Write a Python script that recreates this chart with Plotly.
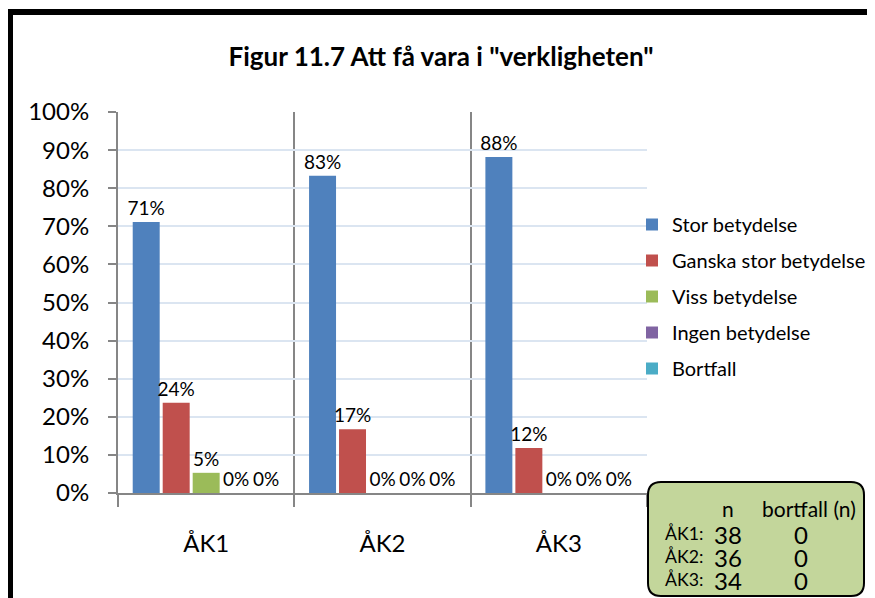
import plotly.graph_objects as go

categories = ["ÅK1", "ÅK2", "ÅK3"]
series_names = ["Stor betydelse", "Ganska stor betydelse", "Viss betydelse", "Ingen betydelse", "Bortfall"]
stor = [0.711, 0.833, 0.882]
ganska = [0.237, 0.167, 0.118]
viss = [0.053, 0.0, 0.0]
ingen = [0.0, 0.0, 0.0]
bortfall = [0.0, 0.0, 0.0]
colors = ["#4f81bd", "#c0504d", "#9bbb59", "#8064a2", "#4bacc6"]
y_ticks = [0, 0.1, 0.2, 0.3, 0.4, 0.5, 0.6, 0.7, 0.8, 0.9, 1.0]
n_values = [38, 36, 34]
bortfall_n = [0, 0, 0]

OFF = 8  # page offset of the figure (body margin)
W, H = 875 - OFF, 598 - OFF
# plot area in page pixels
PL, PR, PT, PB = 118, 647, 112, 493
L, R, T, B = PL - OFF, PR - OFF, PT - OFF, PB - OFF
FONT = "Lato"


def xp(px):  # page px -> paper
    return (px - PL) / (PR - PL)


def yp(py):
    return (PB - py) / (PB - PT)


fig = go.Figure()
xs = list(range(len(categories)))
for name, vals, col in zip(series_names, [stor, ganska, viss, ingen, bortfall], colors):
    fig.add_trace(go.Bar(
        x=xs, y=vals, name=name, marker_color=col, marker_line_width=0,
        text=[f"{v:.0%}" for v in vals], textposition="outside",
        textfont=dict(size=19, color="black", family=FONT),
        constraintext="none", cliponaxis=False, legendgroup=name,
    ))

shapes = []
# outer black frame (top and left edges)
shapes.append(dict(type="line", xref="paper", yref="paper",
                   x0=xp(7), x1=xp(890), y0=yp(12), y1=yp(12),
                   line=dict(color="black", width=6), layer="above"))
shapes.append(dict(type="line", xref="paper", yref="paper",
                   x0=xp(10), x1=xp(10), y0=yp(9), y1=yp(620),
                   line=dict(color="black", width=6), layer="above"))
# rounded info box
bx0, bx1, by0, by1, r = 648, 864, 482, 596, 13
path = (f"M {xp(bx0 + r)} {yp(by0)} L {xp(bx1 - r)} {yp(by0)} "
        f"Q {xp(bx1)} {yp(by0)} {xp(bx1)} {yp(by0 + r)} "
        f"L {xp(bx1)} {yp(by1 - r)} Q {xp(bx1)} {yp(by1)} {xp(bx1 - r)} {yp(by1)} "
        f"L {xp(bx0 + r)} {yp(by1)} Q {xp(bx0)} {yp(by1)} {xp(bx0)} {yp(by1 - r)} "
        f"L {xp(bx0)} {yp(by0 + r)} Q {xp(bx0)} {yp(by0)} {xp(bx0 + r)} {yp(by0)} Z")
shapes.append(dict(type="path", xref="paper", yref="paper", path=path,
                   fillcolor="#c3d69b", line=dict(color="black", width=2), layer="above"))


def note(text, x, y, size, anchor="center"):
    return dict(text=text, x=xp(x), y=yp(y), xref="paper", yref="paper",
                xanchor=anchor, yanchor="middle", showarrow=False, borderpad=0,
                font=dict(size=size, family=FONT, color="black"))


def big(v):
    return f"<span style='font-size:24px'>{v}</span>"


ann = [note("n", 728, 508, 21), note("bortfall (n)", 809, 508, 21)]
ann.append(note("<br>".join(f"{c}:" for c in categories), 664, 556, 17.7, "left"))
ann.append(note("<br>".join(big(n) for n in n_values), 713, 557, 17.7, "left"))
ann.append(note("<br>".join(big(b) for b in bortfall_n), 801, 557, 17.7))

fig.update_layout(
    width=W, height=H,
    margin=dict(l=L, r=W - R, t=T, b=H - B, autoexpand=False),
    paper_bgcolor="white", plot_bgcolor="white",
    barmode="group", bargap=0.15, bargroupgap=0.1,
    title=dict(text="<b>Figur 11.7 Att få vara i \"verkligheten\"</b>",
               x=(441 - OFF) / W, xanchor="center", y=1 - (57 - OFF) / H, yanchor="middle",
               font=dict(size=26, family=FONT, color="black")),
    font=dict(family=FONT, color="black"),
    legend=dict(x=xp(632), y=yp(205), xanchor="left", yanchor="top",
                font=dict(size=20, family=FONT, color="black"),
                tracegroupgap=7, traceorder="grouped", bgcolor="rgba(0,0,0,0)"),
    shapes=shapes, annotations=ann,
)
fig.update_xaxes(
    range=[-0.5, 2.5], tickmode="array", tickvals=xs, ticktext=categories,
    ticks="", showgrid=False, showline=True, linecolor="#868686", linewidth=2,
    tickfont=dict(size=24, family=FONT, color="black"), ticklabelstandoff=28,
    minor=dict(tickmode="array", tickvals=[-0.5, 0.5, 1.5, 2.5], ticks="outside",
               ticklen=12, tickwidth=2, tickcolor="#868686",
               showgrid=True, gridcolor="#868686", gridwidth=2),
    zeroline=False,
)
fig.update_yaxes(
    range=[0, 1], tickmode="array", tickvals=y_ticks, tickformat=".0%",
    ticks="outside", ticklen=8, tickwidth=2, tickcolor="#868686",
    showline=True, linecolor="#868686", linewidth=2,
    showgrid=True, gridcolor="#dbe5f1", gridwidth=2, zeroline=False,
    tickfont=dict(size=24, family=FONT, color="black"), ticklabelstandoff=14,
)

fig.write_html("out.html")
